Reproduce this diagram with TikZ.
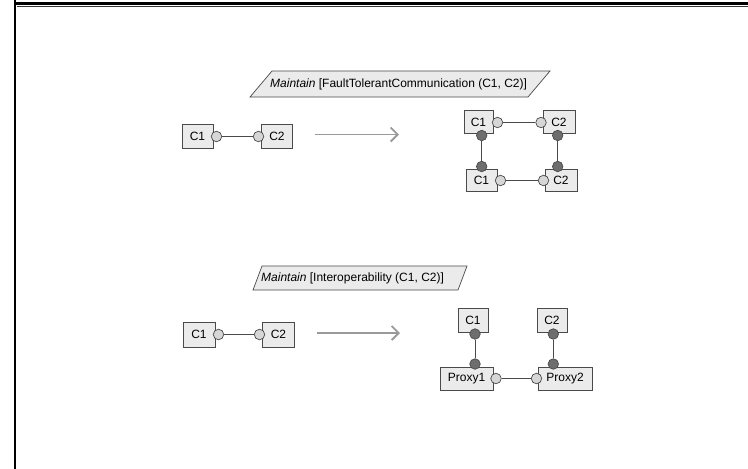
\documentclass[tikz,border=0pt]{standalone}
\usepackage{fontspec}
\setmainfont{Liberation Sans}
\usetikzlibrary{arrows.meta}
\definecolor{boxc}{HTML}{EBEBEB}
\definecolor{edgec}{HTML}{4A4A4A}
\definecolor{lightc}{HTML}{D6D6D6}
\definecolor{darkc}{HTML}{6E6E6E}
\definecolor{arrc}{HTML}{9A9A9A}
\begin{document}
\begin{tikzpicture}[x=1pt,y=-1pt,
  comp/.style={draw=edgec, fill=boxc, line width=0.7pt, inner sep=0pt,
    minimum height=24pt, font=\fontsize{12}{14}\selectfont},
  lol/.style={circle, draw=edgec, fill=lightc, line width=0.7pt, minimum size=10.5pt, inner sep=0pt},
  sock/.style={circle, draw=edgec, fill=darkc, line width=0.7pt, minimum size=10.5pt, inner sep=0pt},
  wire/.style={draw=edgec, line width=0.8pt},
  goal/.style={draw=edgec, fill=boxc, line width=0.7pt},
  goaltext/.style={font=\fontsize{12}{14}\selectfont, anchor=west, inner sep=0pt},
  trans/.style={draw=arrc, line width=1.8pt, -{Straight Barb[length=7pt,width=14pt]}},
  frame/.style={draw=black, line width=2.6pt}
]
\useasboundingbox (0,0) rectangle (748,469);
% frame
\draw[frame] (15,0) -- (15,469);
\draw[frame] (15,3.2) -- (748,3.2);
\draw[draw=black!80, line width=1pt] (16.5,6.6) -- (748,6.6);

% ===== top goal =====
\draw[goal] (272,71) -- (550,71) -- (528,97) -- (250,97) -- cycle;
\node[goaltext] (g1) at (270,84) {\textit{Maintain} [FaultTolerantCommunication (C1, C2)]};

% top-left
\node[comp, minimum width=31pt] (a1) at (197.5,136.5) {C1};
\node[comp, minimum width=31pt] (a2) at (277,136.5) {C2};
\node[lol] (a1r) at (216.5,136.5) {};
\node[lol] (a2l) at (258.5,136.5) {};
\draw[wire] (a1r) -- (a2l);

\coordinate (t1s) at (315,134.5);
\coordinate (t1e) at (399,134.5);
\draw[trans] (t1s) -- (t1e);

% top-right
\node[comp, minimum width=29pt, minimum height=22.5pt] (b1) at (478.5,122) {C1};
\node[comp, minimum width=32pt, minimum height=22.5pt] (b2) at (559,122) {C2};
\node[comp, minimum width=31pt, minimum height=22.5pt] (b3) at (481.5,180.5) {C1};
\node[comp, minimum width=32pt, minimum height=22.5pt] (b4) at (561,180.5) {C2};
\node[lol] (b1r) at (497.5,122.5) {};
\node[lol] (b2l) at (541,122.5) {};
\node[lol] (b3r) at (500.5,180.5) {};
\node[lol] (b4l) at (543.5,180.5) {};
\node[sock] (b1d) at (481.7,135.5) {};
\node[sock] (b3u) at (481.7,166.5) {};
\node[sock] (b2d) at (557.7,135.5) {};
\node[sock] (b4u) at (557.7,166.5) {};
\draw[wire] (b1r) -- (b2l);
\draw[wire] (b3r) -- (b4l);
\draw[wire] (b1d) -- (b3u);
\draw[wire] (b2d) -- (b4u);

% ===== bottom goal =====
\draw[goal] (262,266) -- (467,266) -- (458,290) -- (253,290) -- cycle;
\node[goaltext] (g2) at (261,278) {\textit{Maintain} [Interoperability (C1, C2)]};

% bottom-left
\node[comp, minimum width=32pt, minimum height=25pt] (c1) at (199,334.5) {C1};
\node[comp, minimum width=32pt, minimum height=25pt] (c2) at (278.5,334.5) {C2};
\node[lol] (c1r) at (218.5,334.5) {};
\node[lol] (c2l) at (259.5,334.5) {};
\draw[wire] (c1r) -- (c2l);

\coordinate (t2s) at (316.5,333);
\coordinate (t2e) at (400,333);
\draw[trans] (t2s) -- (t2e);

% bottom-right
\node[comp, minimum width=30pt] (d1) at (473,320.5) {C1};
\node[comp, minimum width=30pt] (d2) at (552,320.5) {C2};
\node[comp, minimum width=53pt, minimum height=23pt] (p1) at (466.5,378.5) {Proxy1};
\node[comp, minimum width=54pt, minimum height=23pt] (p2) at (565,378.5) {Proxy2};
\node[sock] (d1d) at (475,334) {};
\node[sock] (p1u) at (475,364) {};
\node[sock] (d2d) at (553.3,334) {};
\node[sock] (p2u) at (553.3,364) {};
\node[lol] (p1r) at (496,378.5) {};
\node[lol] (p2l) at (536.5,378.5) {};
\draw[wire] (d1d) -- (p1u);
\draw[wire] (d2d) -- (p2u);
\draw[wire] (p1r) -- (p2l);
\end{tikzpicture}
\end{document}
